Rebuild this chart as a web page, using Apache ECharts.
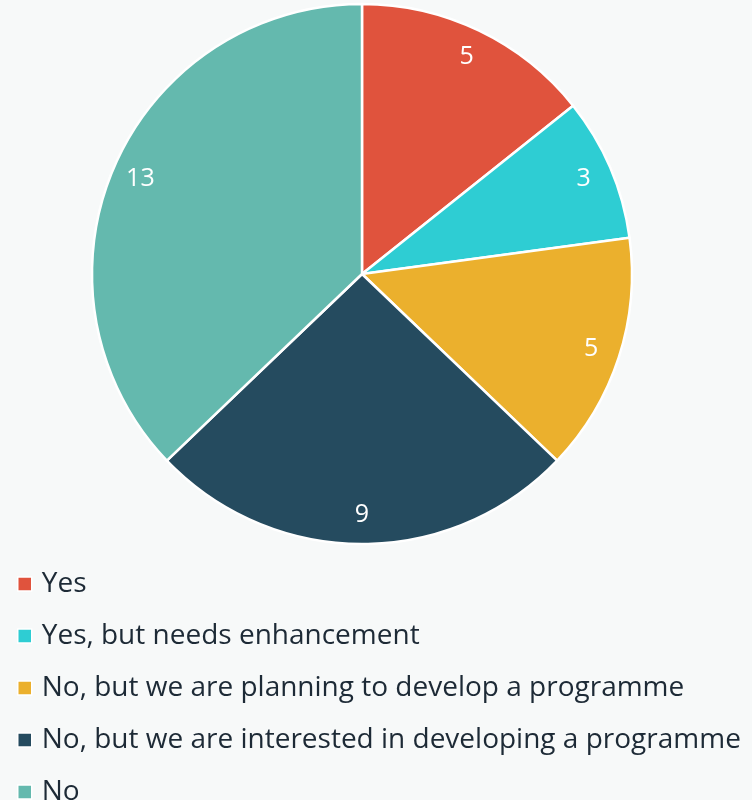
<!DOCTYPE html>
<html>
<head>
<meta charset="utf-8">
<script src="https://cdn.jsdelivr.net/npm/echarts@6/dist/echarts.min.js"></script>
<style>
  html, body { margin: 0; padding: 0; background: #f7f9f9; }
  #chart { width: 752px; height: 800px; }
</style>
</head>
<body>
<div id="chart"></div>
<script>
// Survey answers and counts
const categories = [
  'Yes',
  'Yes, but needs enhancement',
  'No, but we are planning to develop a programme',
  'No, but we are interested in developing a programme',
  'No'
];
const counts = [5, 3, 5, 9, 13];
const colors = ['#e0533d', '#2ecdd3', '#ebb02d', '#254b5f', '#64b9ae'];

const FONT = '"Open Sans", sans-serif';
const pieData = categories.map((name, i) => ({ name, value: counts[i] }));
const center = [362, 274];

const chart = echarts.init(document.getElementById('chart'), null, { renderer: 'canvas' });
chart.setOption({
  backgroundColor: '#f7f9f9',
  color: colors,
  animation: false,
  legend: {
    orient: 'vertical',
    left: 17,
    top: 569,
    height: 240,
    padding: 0,
    itemWidth: 14,
    itemHeight: 14,
    itemGap: 22,
    icon: 'rect',
    itemStyle: { borderColor: '#ffffff', borderWidth: 1.5 },
    textStyle: {
      fontFamily: FONT, fontSize: 28, lineHeight: 30,
      color: '#1d2a36', padding: [0, 0, 0, 5]
    },
    data: categories
  },
  series: [
    {
      // slices
      type: 'pie',
      center: center,
      radius: [0, 270],
      startAngle: 90,
      clockwise: true,
      silent: true,
      itemStyle: { borderColor: '#ffffff', borderWidth: 2.5 },
      label: { show: false },
      labelLine: { show: false },
      data: pieData
    },
    {
      // value labels placed near the rim
      type: 'pie',
      center: center,
      radius: [206, 270],
      startAngle: 90,
      clockwise: true,
      silent: true,
      legendHoverLink: false,
      itemStyle: { color: 'rgba(0,0,0,0)' },
      label: {
        show: true,
        position: 'inside',
        formatter: '{c}',
        color: '#ffffff',
        fontFamily: FONT,
        fontSize: 25
      },
      labelLine: { show: false },
      data: pieData
    }
  ]
});
</script>
</body>
</html>
